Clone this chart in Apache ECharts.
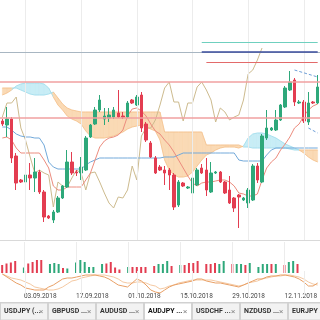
<!DOCTYPE html>
<html><head><meta charset="utf-8">
<script src="https://cdn.jsdelivr.net/npm/echarts/dist/echarts.min.js"></script>
<style>html,body{margin:0;padding:0;background:#fff}#c{width:320px;height:320px}</style>
</head><body><div id="c"></div>
<script>
const dates = ['28.08.2018','29.08.2018','30.08.2018','31.08.2018',
'02.09.2018','03.09.2018','04.09.2018','05.09.2018','06.09.2018','07.09.2018',
'09.09.2018','10.09.2018','11.09.2018','12.09.2018','13.09.2018','14.09.2018',
'16.09.2018','17.09.2018','18.09.2018','19.09.2018','20.09.2018','21.09.2018',
'23.09.2018','24.09.2018','25.09.2018','26.09.2018','27.09.2018','28.09.2018',
'30.09.2018','01.10.2018','02.10.2018','03.10.2018','04.10.2018','05.10.2018',
'07.10.2018','08.10.2018','09.10.2018','10.10.2018','11.10.2018','12.10.2018',
'14.10.2018','15.10.2018','16.10.2018','17.10.2018','18.10.2018','19.10.2018',
'21.10.2018','22.10.2018','23.10.2018','24.10.2018','25.10.2018','26.10.2018',
'28.10.2018','29.10.2018','30.10.2018','31.10.2018','01.11.2018','02.11.2018',
'04.11.2018','05.11.2018','06.11.2018','07.11.2018','08.11.2018','09.11.2018',
'11.11.2018','12.11.2018','13.11.2018','14.11.2018','15.11.2018'];
const tickLabels = ['03.09.2018','17.09.2018','01.10.2018','15.10.2018','29.10.2018','12.11.2018'];
// [open, close, low, high]
const candles = [
[81.58,81.52,81.48,81.62],[81.50,81.62,81.26,81.86],[81.62,80.84,80.74,81.66],[80.88,80.34,80.20,80.94],
[80.40,80.36,80.34,80.42],[80.36,80.50,80.32,80.54],[80.50,80.44,80.20,80.74],[80.44,80.56,80.16,80.84],
[80.56,80.16,80.12,80.60],[80.16,79.66,79.56,80.20],[79.68,79.64,79.62,79.70],[79.60,79.76,79.54,79.80],
[79.76,80.04,79.74,80.08],[80.04,80.28,80.02,80.30],[80.26,80.76,80.24,81.00],[80.76,80.54,80.50,80.96],
[80.56,80.54,80.48,80.60],[80.54,80.66,80.40,80.86],[80.60,81.24,80.58,81.28],[81.26,81.50,81.24,81.52],
[81.52,81.80,81.50,81.86],[81.80,82.00,81.76,82.10],[81.62,81.68,81.50,81.84],[81.64,81.70,81.56,81.84],
[81.66,81.80,81.62,81.86],[81.74,81.66,81.64,82.20],[81.68,81.66,81.62,81.76],[81.66,81.94,81.64,81.98],
[82.00,81.94,81.92,82.02],[81.90,82.06,81.88,82.10],[82.10,81.44,81.36,82.16],[81.52,81.20,81.16,81.56],
[81.14,80.86,80.84,81.18],[80.84,80.54,80.52,80.88],[80.66,80.60,80.58,80.70],[80.60,80.54,80.30,80.68],
[80.60,80.50,80.20,80.64],[80.50,79.86,79.80,80.54],[79.90,80.36,79.86,80.40],[80.34,80.28,80.26,80.36],
[80.24,80.26,80.22,80.28],[80.14,80.44,80.06,80.48],[80.30,80.60,80.28,80.64],[80.64,80.54,80.52,80.72],
[80.60,80.20,80.08,80.84],[80.16,80.54,80.14,80.76],[80.54,80.56,80.52,80.58],[80.56,80.36,80.34,80.58],
[80.36,80.14,80.12,80.38],[80.20,79.94,79.92,80.48],[80.04,79.84,79.76,80.06],[80.10,80.06,79.44,80.12],
[80.00,80.04,79.98,80.06],[79.94,80.20,79.84,80.24],[80.00,80.68,79.98,80.72],[80.68,80.40,80.34,80.74],
[80.36,81.28,80.34,81.32],[81.24,81.44,81.20,81.80],[81.40,81.44,81.38,81.46],[81.40,81.60,81.38,81.80],
[81.60,81.90,81.58,81.92],[81.86,82.24,81.84,82.28],[82.20,82.36,82.18,82.58],[82.40,81.96,81.88,82.44],
[81.94,81.96,81.92,82.00],[81.96,81.58,81.54,82.00],[81.56,81.94,81.50,82.16],[81.96,81.94,81.92,81.98],
[81.94,82.26,81.92,82.50]];
const tenkan = [81.24,81.26,81.20,81.04,80.94,80.94,80.94,80.94,80.94,80.80,80.64,80.28,80.20,80.20,80.26,80.26,80.26,80.26,80.40,80.54,
80.80,81.06,81.18,81.24,81.26,81.30,81.40,81.68,81.82,81.84,81.78,81.68,81.52,81.38,81.32,81.20,81.10,80.96,80.80,80.64,
80.48,80.34,80.28,80.34,80.36,80.36,80.38,80.40,80.40,80.36,80.28,80.14,80.12,80.08,80.08,80.12,80.40,80.64,80.76,80.84,
81.00,81.12,81.26,81.44,81.52,81.68,81.80,81.88,81.92];
const kijun = [81.46,81.46,81.40,81.32,81.28,81.26,81.26,81.24,81.24,81.10,80.76,80.66,80.62,80.62,80.62,80.62,80.62,80.62,80.70,80.76,
80.80,80.84,80.84,80.84,80.84,80.84,80.84,80.84,80.84,80.84,80.84,80.84,80.84,80.84,80.84,80.86,80.86,80.86,80.90,80.94,
80.94,80.94,80.94,80.94,80.94,80.94,80.94,80.94,80.94,80.94,80.94,80.80,80.78,80.78,80.78,80.78,80.78,80.90,81.00,81.04,
81.04,81.04,81.04,81.04,81.04,81.04,81.04,81.04,81.04];
const chikou = [81.66,81.94,81.94,82.06,81.44,81.20,80.86,80.54,80.60,80.54,80.50,79.86,80.36,80.28,80.26,80.44,80.60,80.54,80.20,80.54,
80.56,80.36,80.14,79.94,79.84,80.06,80.04,80.20,80.68,80.40,81.28,81.44,81.44,81.60,81.90,82.24,82.36,81.96,81.96,81.58,
81.94,81.94,82.26,82.36,82.20,82.00,81.56,81.84,81.76,81.60,81.66,81.70,82.00,82.52,82.60,82.80,83.04];
const spanA = [82.10,82.14,82.20,82.28,82.32,82.34,82.34,82.34,82.34,82.32,82.24,82.06,81.90,81.80,81.68,81.62,81.58,81.52,81.38,81.28,
81.24,81.24,81.24,81.26,81.28,81.32,81.36,81.42,81.46,81.48,81.50,81.46,81.42,81.38,81.20,80.80,80.60,80.50,80.46,80.46,
80.48,80.56,80.68,80.80,80.90,80.94,81.00,81.04,81.06,81.06,81.06,81.04,81.08,81.24,81.32,81.34,81.34,81.32,81.28,81.24,
81.18,81.12,81.08,81.04,81.00,80.94,80.86,80.80,80.76];
const spanB = [82.24,82.24,82.24,82.24,82.20,82.16,82.12,82.10,82.10,82.10,82.12,82.16,82.04,81.92,81.84,81.80,81.78,81.76,81.76,81.76,
81.76,81.76,81.76,81.76,81.76,81.76,81.76,81.76,81.76,81.76,81.76,81.76,81.76,81.76,81.76,81.36,81.36,81.36,81.36,81.36,
81.36,81.36,81.36,81.36,81.10,81.10,81.10,81.10,81.10,81.10,81.10,81.10,81.06,81.06,81.04,81.04,81.04,81.04,81.04,81.04,
81.04,81.04,81.02,81.00,81.00,81.00,81.00,81.00,81.00];
const volumes = [8000,9500,10500,12000,0,5500,9500,11000,13000,13000,0,9000,10000,9000,5000,4500,0,10500,13000,11000,
6000,6000,0,9000,9500,11000,5500,3500,0,6000,6000,6000,6000,6000,0,7000,9000,9000,12000,7000,
0,8000,8000,10000,10000,12000,0,9000,9000,10000,9000,12000,0,9000,9000,9000,8000,10000,0,6000,
9000,9000,9000,9000,0,8000,11000,12000,9000];
const volumeUp = [0,0,0,0,0,1,0,0,0,0,0,1,1,1,0,1,0,1,1,1,1,1,0,1,0,0,0,0,0,1,0,0,0,0,0,0,1,1,1,0,
0,1,0,0,0,0,0,0,0,0,1,1,0,0,1,1,0,1,0,1,1,1,0,1,0,0,1,1,0];
const osc1 = [88,76,64,52,44,32,28,24,24,24,36,44,56,68,72,72,76,80,84,84,84,80,76,68,56,44,40,36,52,68,
60,44,24,16,12,24,36,44,48,52,56,60,68,68,60,56,52,52,48,44,40,36,44,52,60,68,68,76,80,80,84,84,80,76,68,56,40,40,52];
const osc2 = [88,80,72,68,64,56,48,36,32,28,24,24,28,36,48,60,64,72,76,80,84,84,84,80,76,68,56,52,52,56,
56,52,44,40,28,32,40,44,52,56,60,64,64,64,64,64,60,56,52,48,44,40,44,52,56,60,68,72,76,80,80,84,84,80,76,68,56,48,44];
const fullLevels = [82.96, 82.36, 81.64];
const partLevels = [83.16, 82.96, 82.76];
const partStart = ['17.10.2018','17.10.2018','18.10.2018'];
const trend1 = [['09.11.2018',82.60],['15.11.2018',82.46]];
const trend2 = [['13.11.2018',81.44],['15.11.2018',81.34]];
const tabNames = ['USDJPY (...','GBPUSD ...','AUDUSD ...','AUDJPY ...','USDCHF ...','NZDUSD ...','EURJPY ...'];

const UP='#2ea87a', DOWN='#e33d51';
const CY='rgba(190,234,244,0.85)', OR='rgba(249,211,168,0.85)';
const CYE='#9fdcec', ORE='#f4c08c';
const N = dates.length;
const cloudData = [];
for (let i=0;i<N-1;i++) cloudData.push([i, spanA[i], spanB[i], spanA[i+1], spanB[i+1]]);

function renderCloud(params, api){
  const i = api.value(0);
  const va0=api.value(1), vb0=api.value(2), va1=api.value(3), vb1=api.value(4);
  const a0=api.coord([i,va0]), b0=api.coord([i,vb0]), a1=api.coord([i+1,va1]), b1=api.coord([i+1,vb1]);
  const d0=va0-vb0, d1=va1-vb1;
  const col = d => d>=0?CY:OR;
  const ch=[];
  if (d0*d1<0){
    const t=d0/(d0-d1);
    const p=[a0[0]+t*(a1[0]-a0[0]), a0[1]+t*(a1[1]-a0[1])];
    ch.push({type:'polygon',shape:{points:[a0,p,b0]},style:{fill:col(d0),stroke:col(d0),lineWidth:0.4}});
    ch.push({type:'polygon',shape:{points:[p,a1,b1]},style:{fill:col(d1),stroke:col(d1),lineWidth:0.4}});
  } else {
    const c=col(d0+d1);
    ch.push({type:'polygon',shape:{points:[a0,a1,b1,b0]},style:{fill:c,stroke:c,lineWidth:0.4}});
  }
  const e=(d0+d1)>=0?CYE:ORE;
  ch.push({type:'line',shape:{x1:a0[0],y1:a0[1],x2:a1[0],y2:a1[1]},style:{stroke:e,lineWidth:0.8}});
  ch.push({type:'line',shape:{x1:b0[0],y1:b0[1],x2:b1[0],y2:b1[1]},style:{stroke:e,lineWidth:0.8}});
  return {type:'group',children:ch};
}

const gridVLines = tickLabels.map(d=>({xAxis:d}));
const vlineStyle = {color:'#ececec',width:1,type:'solid'};

const levelLines = [
  {yAxis:fullLevels[0], lineStyle:{color:'#a8b6c2',width:1.2,type:'solid'}},
  {yAxis:fullLevels[1], lineStyle:{color:'#f0a0a0',width:1.5,type:'solid'}},
  {yAxis:fullLevels[2], lineStyle:{color:'#f0a0a0',width:1.5,type:'solid'}},
  [{coord:[partStart[0],partLevels[0]]},{coord:[dates[N-1],partLevels[0]],lineStyle:{color:'#6fd0bf',width:1.2,type:'solid'}}],
  [{coord:[partStart[1],partLevels[1]]},{coord:[dates[N-1],partLevels[1]],lineStyle:{color:'#3b4d9c',width:1.5,type:'solid'}}],
  [{coord:[partStart[2],partLevels[2]]},{coord:[dates[N-1],partLevels[2]],lineStyle:{color:'#e36a6a',width:1.2,type:'solid'}}],
  [{coord:trend1[0]},{coord:trend1[1],lineStyle:{color:'#6f9fd8',width:1,type:[3,2]}}],
  [{coord:trend2[0]},{coord:trend2[1],lineStyle:{color:'#6f9fd8',width:1,type:[3,2]}}]
];

const graphics = [
  {type:'rect',shape:{x:0,y:302,width:320,height:18},style:{fill:'#eeeeee'},silent:true},
  {type:'line',shape:{x1:0,y1:302.5,x2:320,y2:302.5},style:{stroke:'#cfcfcf',lineWidth:1},silent:true}
];
tabNames.forEach((t,k)=>{
  const x=48*k, act=(k===3);
  graphics.push({type:'rect',shape:{x:x+0.5,y:303,width:47,height:17},style:{fill:act?'#ffffff':'#f2f2f2',stroke:'#d2d2d2',lineWidth:1},silent:true});
  graphics.push({type:'text',x:x+4,y:311.5,style:{text:t,fill:act?'#111':'#333',font:(act?'bold ':'bold ')+'7px Roboto, sans-serif',textVerticalAlign:'middle'},silent:true});
  if (k<6) graphics.push({type:'text',x:x+39,y:311.5,style:{text:'×',fill:'#888',font:'8px Roboto, sans-serif',textVerticalAlign:'middle'},silent:true});
});

const chart = echarts.init(document.getElementById('c'), null, {renderer:'canvas'});
chart.setOption({
  animation:false,
  backgroundColor:'#ffffff',
  grid:[
    {left:0,right:0,top:0,height:240},
    {left:0,right:0,top:242,height:31},
    {left:0,right:0,top:271,height:25}
  ],
  xAxis:[
    {type:'category',gridIndex:0,data:dates,boundaryGap:true,axisLine:{show:true,lineStyle:{color:'#d9d9d9'}},axisTick:{show:false},axisLabel:{show:false},splitLine:{show:false}},
    {type:'category',gridIndex:1,data:dates,boundaryGap:true,axisLine:{show:false},axisTick:{show:false},
      axisLabel:{show:true,interval:(i,v)=>tickLabels.includes(v),align:'left',margin:20,fontSize:6.5,color:'#444',fontFamily:'Roboto'},splitLine:{show:false}},
    {type:'category',gridIndex:2,data:dates,boundaryGap:true,show:false}
  ],
  yAxis:[
    {type:'value',gridIndex:0,min:79.2,max:84.0,show:false,scale:true},
    {type:'value',gridIndex:1,min:0,max:31000,show:false},
    {type:'value',gridIndex:2,min:0,max:100,show:false}
  ],
  graphic:graphics,
  series:[
    {type:'line',xAxisIndex:0,yAxisIndex:0,data:[],silent:true,z:0,
      markLine:{silent:true,symbol:['none','none'],label:{show:false},lineStyle:vlineStyle,data:gridVLines}},
    {type:'custom',xAxisIndex:0,yAxisIndex:0,data:cloudData,renderItem:renderCloud,silent:true,z:1,encode:{x:0,y:[1,2]}},
    {type:'line',xAxisIndex:0,yAxisIndex:0,data:chikou,symbol:'none',lineStyle:{color:'#cdbb8e',width:1},z:2,silent:true},
    {type:'line',xAxisIndex:0,yAxisIndex:0,data:kijun,symbol:'none',lineStyle:{color:'#72a9da',width:1},z:2,silent:true},
    {type:'line',xAxisIndex:0,yAxisIndex:0,data:tenkan,symbol:'none',lineStyle:{color:'#ec8c7e',width:1},z:2,silent:true},
    {type:'candlestick',xAxisIndex:0,yAxisIndex:0,data:candles,barWidth:3,z:3,silent:true,
      itemStyle:{color:UP,color0:DOWN,borderColor:UP,borderColor0:DOWN,borderWidth:1},
      markLine:{silent:true,symbol:['none','none'],label:{show:false},data:levelLines}},
    {type:'bar',xAxisIndex:1,yAxisIndex:1,barWidth:2,silent:true,
      data:volumes.map((v,i)=>({value:v,itemStyle:{color:volumeUp[i]?UP:DOWN}})),
      markLine:{silent:true,symbol:['none','none'],label:{show:false},lineStyle:vlineStyle,data:gridVLines}},
    {type:'line',xAxisIndex:2,yAxisIndex:2,data:osc2,symbol:'none',lineStyle:{color:'#f5c9a2',width:1},silent:true,
      markLine:{silent:true,symbol:['none','none'],label:{show:false},lineStyle:vlineStyle,data:gridVLines}},
    {type:'line',xAxisIndex:2,yAxisIndex:2,data:osc1,symbol:'none',lineStyle:{color:'#e9a066',width:1},silent:true}
  ]
});
</script>
</body></html>
